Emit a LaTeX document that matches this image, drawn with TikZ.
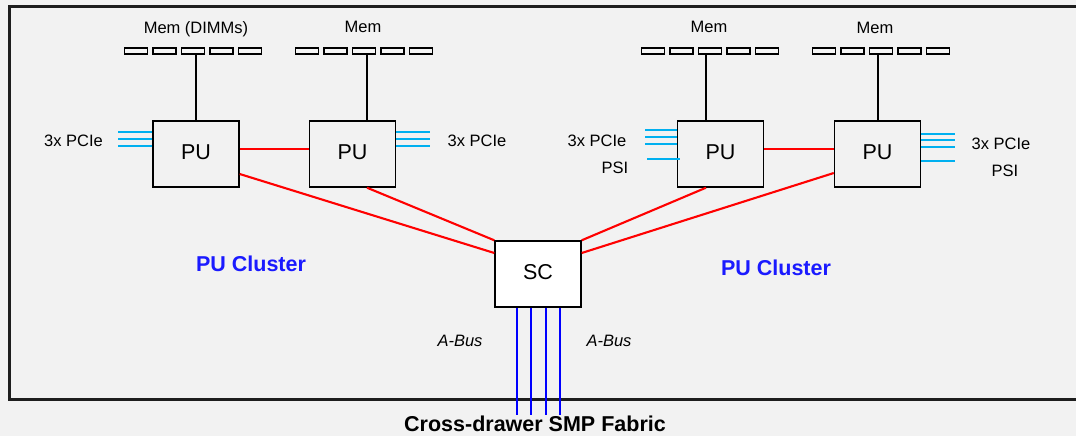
\documentclass[tikz,border=0pt]{standalone}
\usepackage{fontspec}
\setmainfont{Liberation Sans}
\usetikzlibrary{positioning}
\definecolor{bgGray}{HTML}{F2F2F2}
\definecolor{dimmGray}{HTML}{F6F6F6}
\definecolor{pcieCyan}{HTML}{00B0F0}
\definecolor{linkRed}{HTML}{FF0000}
\definecolor{busBlue}{HTML}{0000FF}
\definecolor{clusterBlue}{HTML}{1A1AFF}
\definecolor{frameGray}{HTML}{1E1E1E}

\begin{document}
\begin{tikzpicture}[
  x=1pt, y=-1pt,
  every node/.style={font=\fontsize{16.5}{19}\selectfont, inner sep=0pt},
  unitbox/.style={draw, line width=1.4pt, minimum width=86pt, minimum height=66pt,
    font=\fontsize{21.5}{24}\selectfont},
  pubox/.style={unitbox, fill=bgGray},
  scbox/.style={unitbox, fill=white},
  dimm/.style={draw, line width=1.3pt, fill=dimmGray, minimum width=23pt, minimum height=6pt},
  memline/.style={line width=2pt},
  smp/.style={line width=2.1pt, linkRed},
  pcie/.style={line width=2pt, pcieCyan},
  abus/.style={line width=2pt, busBlue},
  cluster/.style={font=\fontsize{21.5}{24}\selectfont\bfseries, text=clusterBlue},
]
% Canvas
\fill[bgGray] (0,0) rectangle (1076,436);
\useasboundingbox (0,0) rectangle (1076,436);
\clip (0,0) rectangle (1076,436);

% Drawer frame (open to the right)
\draw[line width=3pt, frameGray] (1090,7) -| (9,399) -- (1090,399);

% Memory DIMMs, five per PU
\foreach \g/\gx in {1/124, 2/295, 3/641, 4/812} {
  \foreach \i in {1,...,5} {
    \node[dimm] (m\g-\i) at ({\gx+12+(\i-1)*28.5}, 51) {};
  }
}
\node (mem1) at (196, 29) {Mem (DIMMs)};
\node (mem2) at (363, 27) {Mem};
\node (mem3) at (709, 27) {Mem};
\node (mem4) at (875, 28) {Mem};

% Processor units and storage controller
\node[pubox] (pu1) at (196, 154) {\raisebox{4pt}{PU}};
\node[pubox] (pu2) at (352.5, 154) {\raisebox{4pt}{PU}};
\node[pubox] (pu3) at (720.5, 154) {\raisebox{4pt}{PU}};
\node[pubox] (pu4) at (877.5, 154) {\raisebox{4pt}{PU}};
\node[scbox] (sc) at (538, 274) {\raisebox{4pt}{SC}};

% PU to memory
\draw[memline] (pu1.north) -- (pu1.north |- m1-3.south);
\draw[memline] ([xshift=14.5pt]pu2.north) -- ([xshift=14.5pt]pu2.north |- m2-3.south);
\draw[memline] ([xshift=-14.5pt]pu3.north) -- ([xshift=-14.5pt]pu3.north |- m3-3.south);
\draw[memline] (pu4.north) -- (pu4.north |- m4-3.south);

% PU to PU and PU to SC
\draw[smp] ([yshift=5pt]pu1.east) -- ([yshift=5pt]pu2.west);
\draw[smp] ([yshift=5pt]pu3.east) -- ([yshift=5pt]pu4.west);
\draw[smp] ([yshift=-20pt]pu1.east) -- ([yshift=21pt]sc.west);
\draw[smp] ([xshift=14.5pt]pu2.south) -- (sc.north west);
\draw[smp] ([xshift=-14.5pt]pu3.south) -- (sc.north east);
\draw[smp] ([yshift=-19pt]pu4.west) -- ([yshift=21pt]sc.east);

% PCIe and PSI stubs
\foreach \dy in {22, 15, 8} {
  \draw[pcie] ([yshift=\dy pt]pu1.west) -- ++(-34, 0);
  \draw[pcie] ([yshift=\dy pt]pu2.east) -- ++(34, 0);
}
\foreach \dy in {24, 17, 10} {
  \draw[pcie] ([yshift=\dy pt]pu3.west) -- ++(-32, 0);
}
\draw[pcie] ([xshift=3pt, yshift=-5pt]pu3.west) -- ++(-33, 0);
\foreach \dy in {20, 14, 7, -7} {
  \draw[pcie] ([yshift=\dy pt]pu4.east) -- ++(34, 0);
}
\node (io1) at (73.5, 141) {3x PCIe};
\node (io2) at (477, 141) {3x PCIe};
\node (io3) at (597, 141) {3x PCIe};
\node (psi3) at (615, 168) {PSI};
\node (io4) at (1001, 144) {3x PCIe};
\node (psi4) at (1005, 171) {PSI};

% A-Bus to the other drawers
\coordinate (fab) at (538, 415);
\foreach \dx in {-21, -7, 8, 22} {
  \draw[abus] ([xshift=\dx pt]sc.south) -- ([xshift=\dx pt]fab);
}
\node[font=\fontsize{16.5}{19}\selectfont\itshape] (ab1) at (460, 341) {A-Bus};
\node[font=\fontsize{16.5}{19}\selectfont\itshape] (ab2) at (609, 341) {A-Bus};

% Labels
\node[cluster] (cl1) at (251, 264) {PU Cluster};
\node[cluster] (cl2) at (776, 268) {PU Cluster};
\node[font=\fontsize{21.5}{24}\selectfont\bfseries] (fabric) at (535, 424) {Cross-drawer SMP Fabric};
\end{tikzpicture}
\end{document}
